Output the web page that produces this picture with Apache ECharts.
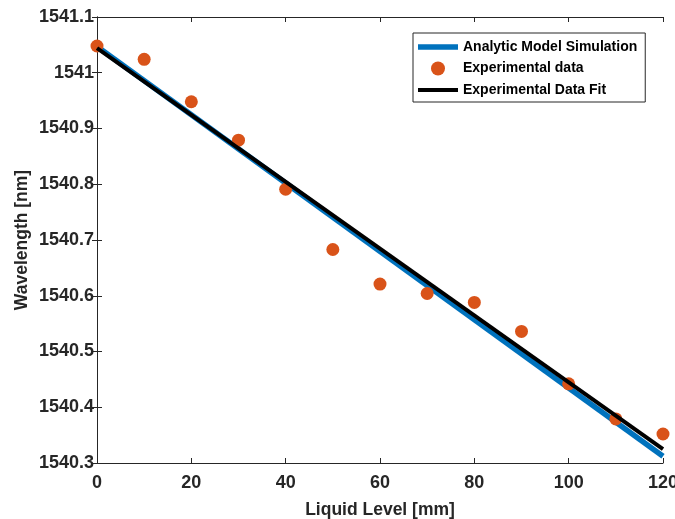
<!DOCTYPE html>
<html>
<head>
<meta charset="utf-8">
<script src="https://cdn.jsdelivr.net/npm/echarts@6/dist/echarts.min.js"></script>
<style>html,body{margin:0;padding:0;background:#fff}#c{width:675px;height:519px}</style>
</head>
<body>
<div id="c"></div>
<script>
// Data
var liquidLevel = [0, 10, 20, 30, 40, 50, 60, 70, 80, 90, 100, 110, 120];
var experimental = [1541.048, 1541.024, 1540.948, 1540.879, 1540.791, 1540.683, 1540.621, 1540.604, 1540.588, 1540.536, 1540.442, 1540.379, 1540.352];
var simulationX = [0, 120];
var simulationY = [1541.047, 1540.312];
var fitX = [0, 120];
var fitY = [1541.044, 1540.325];
var seriesNames = ['Analytic Model Simulation', 'Experimental data', 'Experimental Data Fit'];
var xTitle = 'Liquid Level [mm]';
var yTitle = 'Wavelength [nm]';

function pairs(xs, ys) { return xs.map(function (x, i) { return [x, ys[i]]; }); }

var FONT = "'Liberation Sans', Arial, Helvetica, sans-serif";
var AX = '#262626';
var chart = echarts.init(document.getElementById('c'), null, { renderer: 'canvas' });

var yFmt = function (v) { return String(parseFloat(Number(v).toFixed(1))); };

chart.setOption({
  animation: false,
  backgroundColor: '#ffffff',
  grid: { left: 97, right: 12, top: 17, bottom: 56, containLabel: false, outerBoundsMode: 'none' },
  xAxis: [{
    type: 'value', min: 0, max: 120, interval: 20, position: 'bottom',
    name: xTitle, nameLocation: 'middle', nameGap: 38, nameMoveOverlap: false,
    nameTextStyle: { fontFamily: FONT, fontWeight: 'bold', fontSize: 17.5, color: AX },
    axisLine: { show: true, lineStyle: { color: AX, width: 1 } },
    axisTick: { show: true, inside: true, length: 5, lineStyle: { color: AX } },
    axisLabel: { fontFamily: FONT, fontWeight: 'bold', fontSize: 18, color: AX, margin: 11 },
    splitLine: { show: false }
  }, {
    type: 'value', min: 0, max: 120, interval: 20, position: 'top',
    axisLine: { show: true, lineStyle: { color: AX, width: 1 } },
    axisTick: { show: true, inside: true, length: 5, lineStyle: { color: AX } },
    axisLabel: { show: false }, splitLine: { show: false }
  }],
  yAxis: [{
    type: 'value', min: 1540.3, max: 1541.1, interval: 0.1, position: 'left',
    name: yTitle, nameLocation: 'middle', nameGap: 66, nameMoveOverlap: false,
    nameTextStyle: { fontFamily: FONT, fontWeight: 'bold', fontSize: 17.5, color: AX },
    axisLine: { show: true, lineStyle: { color: AX, width: 1 } },
    axisTick: { show: true, inside: true, length: 5, lineStyle: { color: AX } },
    axisLabel: { fontFamily: FONT, fontWeight: 'bold', fontSize: 18, color: AX, margin: 3, padding: [7, 0, 0, 0], formatter: yFmt },
    splitLine: { show: false }
  }, {
    type: 'value', min: 1540.3, max: 1541.1, interval: 0.1, position: 'right',
    axisLine: { show: true, lineStyle: { color: AX, width: 1 } },
    axisTick: { show: true, inside: true, length: 5, lineStyle: { color: AX } },
    axisLabel: { show: false }, splitLine: { show: false }
  }],
  legend: {
    orient: 'vertical', left: 413, top: 33,
    itemWidth: 40, itemHeight: 14, itemGap: 7.5,
    padding: [7, 8, 5, 5],
    borderColor: AX, borderWidth: 1, backgroundColor: '#ffffff',
    textStyle: { fontFamily: FONT, fontWeight: 'bold', fontSize: 14, color: '#000' },
    data: [
      { name: seriesNames[0], icon: 'path://M0,0 L0.001,0 Z M0,4.3 H40 V9.7 H0 Z M0,14 L0.001,14 Z' },
      { name: seriesNames[1], icon: 'circle', itemStyle: { opacity: 1 } },
      { name: seriesNames[2], icon: 'path://M0,0 L0.001,0 Z M0,5 H40 V9 H0 Z M0,14 L0.001,14 Z' }
    ]
  },
  series: [{
    name: seriesNames[0], type: 'line', data: pairs(simulationX, simulationY),
    showSymbol: false, symbol: 'none', color: '#0072BD',
    lineStyle: { color: '#0072BD', width: 5.5 }, z: 2
  }, {
    name: seriesNames[1], type: 'scatter', data: pairs(liquidLevel, experimental),
    symbol: 'circle', symbolSize: 13, color: '#D95319',
    itemStyle: { color: '#D95319', opacity: 1 }, z: 3
  }, {
    name: seriesNames[2], type: 'line', data: pairs(fitX, fitY),
    showSymbol: false, symbol: 'none', color: '#000000',
    lineStyle: { color: '#000000', width: 4 }, z: 4
  }]
});
</script>
</body>
</html>
